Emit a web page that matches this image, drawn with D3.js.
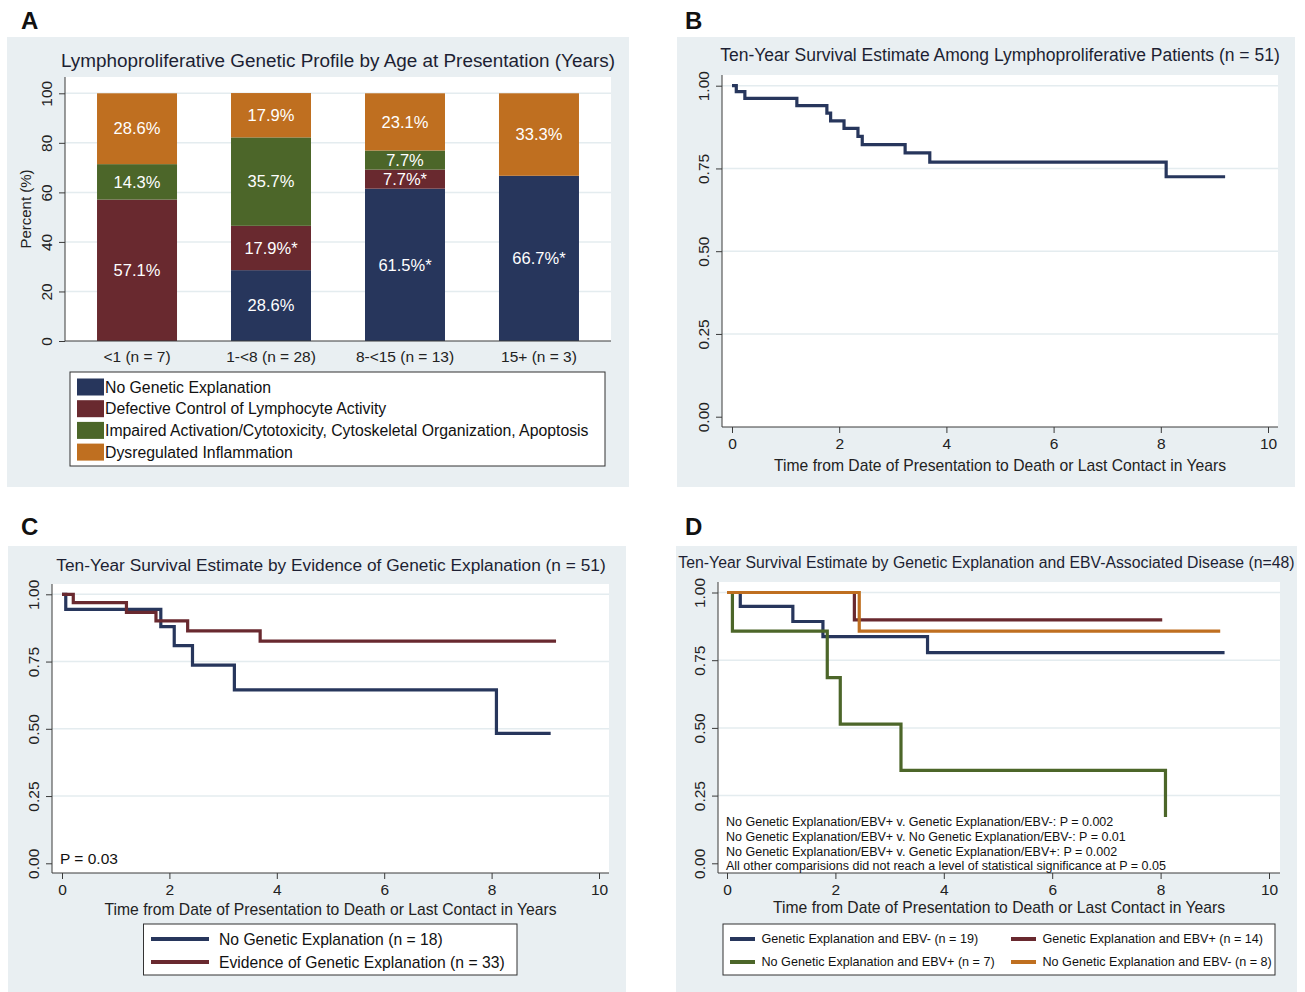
<!DOCTYPE html>
<html>
<head>
<meta charset="utf-8">
<script src="https://cdn.jsdelivr.net/npm/d3@7"></script>
<style>
  body { margin: 0; background: #fff; }
  svg { font-family: "Liberation Sans", Arial, sans-serif; }
</style>
</head>
<body>
<svg id="fig" width="1305" height="992"></svg>
<script>
// ---- data: panel A (stacked percent bars) ----
var ageGroups = ['<1 (n = 7)', '1-<8 (n = 28)', '8-<15 (n = 13)', '15+ (n = 3)'];
var profileNames = ['No Genetic Explanation', 'Defective Control of Lymphocyte Activity',
  'Impaired Activation/Cytotoxicity, Cytoskeletal Organization, Apoptosis', 'Dysregulated Inflammation'];
var noGenetic = [0, 28.6, 61.5, 66.7];
var defectiveControl = [57.1, 17.9, 7.7, 0];
var impairedActivation = [14.3, 35.7, 7.7, 0];
var dysregInflammation = [28.6, 17.9, 23.1, 33.3];
var noGeneticLabels = ['', '28.6%', '61.5%*', '66.7%*'];
var defectiveLabels = ['57.1%', '17.9%*', '7.7%*', ''];
var impairedLabels = ['14.3%', '35.7%', '7.7%', ''];
var dysregLabels = ['28.6%', '17.9%', '23.1%', '33.3%'];
var percentTicks = [0, 20, 40, 60, 80, 100];

// ---- data: survival curves (time in years, survival estimate) ----
var yearTicks = [0, 2, 4, 6, 8, 10];
var survTicks = [0, 0.25, 0.5, 0.75, 1];

var allTimes = [0, 0.08, 0.24, 1.21, 1.77, 1.84, 2.09, 2.35, 2.43, 3.23, 3.69, 8.10];
var allSurv = [1, 0.982, 0.962, 0.940, 0.917, 0.894, 0.871, 0.847, 0.822, 0.797, 0.769, 0.725];
var allEnd = 9.2;

var noGenTimes = [0, 0.07, 1.84, 2.09, 2.43, 3.21, 8.09];
var noGenSurv = [1, 0.944, 0.880, 0.809, 0.737, 0.645, 0.483];
var noGenEnd = 9.1;
var genTimes = [0, 0.21, 1.20, 1.75, 2.34, 3.69];
var genSurv = [1, 0.969, 0.933, 0.901, 0.864, 0.826];
var genEnd = 9.2;

var genNegTimes = [0, 0.245, 1.215, 1.77, 3.70];
var genNegSurv = [1, 0.949, 0.893, 0.837, 0.778];
var genNegEnd = 9.18;
var genPosTimes = [0, 2.35];
var genPosSurv = [1, 0.899];
var genPosEnd = 8.03;
var noGenPosTimes = [0, 0.10, 1.85, 2.09, 3.21, 8.09];
var noGenPosSurv = [1, 0.857, 0.686, 0.514, 0.343, 0.171];
var noGenPosEnd = 8.09;
var noGenNegTimes = [0, 2.44];
var noGenNegSurv = [1, 0.857];
var noGenNegEnd = 9.10;

var pNotes = [
  'No Genetic Explanation/EBV+ v. Genetic Explanation/EBV-: P = 0.002',
  'No Genetic Explanation/EBV+ v. No Genetic Explanation/EBV-: P = 0.01',
  'No Genetic Explanation/EBV+ v. Genetic Explanation/EBV+: P = 0.002',
  'All other comparisions did not reach a level of statistical significance at P = 0.05'
];

// colours
var navy = '#27365c', maroon = '#69292f', green = '#4c6629', orange = '#bf6f20';
var panelBg = '#e9eff2', gridCol = '#e4ecef', axisCol = '#3a3a3a', textCol = '#1d1f33';

var svg = d3.select('#fig');

function panelBox(x0, y0, x1, y1, letter, lx, ly) {
  svg.append('rect').attr('x', x0).attr('y', y0).attr('width', x1 - x0).attr('height', y1 - y0)
    .attr('fill', panelBg);
  svg.append('text').attr('x', lx).attr('y', ly).attr('font-size', 24).attr('font-weight', 'bold')
    .attr('fill', '#111').text(letter);
}

function styleYLabels(g, off, fs) {
  g.selectAll('.tick text')
    .attr('x', 0).attr('y', -off).attr('dy', '0.35em')
    .attr('text-anchor', 'middle').attr('transform', 'rotate(-90)')
    .attr('font-size', fs).attr('fill', '#222');
  g.selectAll('.tick line').attr('stroke', axisCol);
  g.select('.domain').remove();
}

function styleXLabels(g, off, fs) {
  g.selectAll('.tick text').attr('y', off).attr('dy', '0.71em')
    .attr('font-size', fs).attr('fill', '#222');
  g.selectAll('.tick line').attr('stroke', axisCol);
  g.select('.domain').remove();
}

// ================= Panel A =================
panelBox(7, 37, 629, 487, 'A', 21, 29);
var pa = { left: 65, right: 611, top: 77, bottom: 341 };
svg.append('rect').attr('x', pa.left).attr('y', pa.top).attr('width', pa.right - pa.left)
  .attr('height', pa.bottom - pa.top).attr('fill', '#fff');

var xA = d3.scaleBand().domain(ageGroups).range([pa.left, pa.right])
  .paddingInner(0.403).paddingOuter(0.239);
var yA = d3.scaleLinear().domain([0, 100]).range([pa.bottom, 93.3]);

svg.append('g').selectAll('line').data(percentTicks.filter(function(d) { return d > 0; }))
  .enter().append('line')
  .attr('x1', pa.left).attr('x2', pa.right)
  .attr('y1', yA).attr('y2', yA)
  .attr('stroke', gridCol).attr('stroke-width', 1.5);

var keysA = ['noGenetic', 'defective', 'impaired', 'dysreg'];
var colorsA = [navy, maroon, green, orange];
var labelsA = [noGeneticLabels, defectiveLabels, impairedLabels, dysregLabels];
var rowsA = ageGroups.map(function(g, i) {
  return { group: g, idx: i, noGenetic: noGenetic[i], defective: defectiveControl[i],
    impaired: impairedActivation[i], dysreg: dysregInflammation[i] };
});
var stackA = d3.stack().keys(keysA)(rowsA);

stackA.forEach(function(layer, k) {
  var gl = svg.append('g');
  gl.selectAll('rect').data(layer).enter().append('rect')
    .attr('x', function(d) { return xA(d.data.group); })
    .attr('width', xA.bandwidth())
    .attr('y', function(d) { return yA(d[1]); })
    .attr('height', function(d) { return yA(d[0]) - yA(d[1]); })
    .attr('fill', colorsA[k]);
  gl.selectAll('text').data(layer).enter().append('text')
    .attr('x', function(d) { return xA(d.data.group) + xA.bandwidth() / 2; })
    .attr('y', function(d) { return yA((d[0] + d[1]) / 2); })
    .attr('dy', '0.35em')
    .attr('text-anchor', 'middle').attr('font-size', 16.5).attr('fill', '#fff')
    .text(function(d) { return labelsA[k][d.data.idx]; });
});

var gyA = svg.append('g').attr('transform', 'translate(' + pa.left + ',0)')
  .call(d3.axisLeft(yA).tickValues(percentTicks).tickSize(6));
styleYLabels(gyA, 18, 15.5);
var gxA = svg.append('g').attr('transform', 'translate(0,' + pa.bottom + ')')
  .call(d3.axisBottom(xA).tickSize(0));
styleXLabels(gxA, 10, 15.5);
svg.append('line').attr('x1', pa.left).attr('x2', pa.left).attr('y1', pa.top).attr('y2', pa.bottom)
  .attr('stroke', axisCol);
svg.append('line').attr('x1', pa.left).attr('x2', pa.right).attr('y1', pa.bottom).attr('y2', pa.bottom)
  .attr('stroke', axisCol);

svg.append('text').attr('x', (pa.left + pa.right) / 2).attr('y', 66.5).attr('text-anchor', 'middle')
  .attr('font-size', 18.9).attr('fill', textCol)
  .text('Lymphoproliferative Genetic Profile by Age at Presentation (Years)');
svg.append('text').attr('transform', 'translate(31,' + ((pa.top + pa.bottom) / 2) + ') rotate(-90)')
  .attr('text-anchor', 'middle').attr('font-size', 15).attr('fill', '#222').text('Percent (%)');

// legend A
svg.append('rect').attr('x', 70).attr('y', 372).attr('width', 535).attr('height', 94)
  .attr('fill', '#fff').attr('stroke', '#333');
var legA = svg.append('g').selectAll('g').data(profileNames).enter().append('g')
  .attr('transform', function(d, i) { return 'translate(77,' + (378.5 + i * 21.7) + ')'; });
legA.append('rect').attr('width', 27).attr('height', 17)
  .attr('fill', function(d, i) { return colorsA[i]; });
legA.append('text').attr('x', 28).attr('y', 8.5).attr('dy', '0.35em').attr('font-size', 15.8)
  .attr('fill', '#111').text(function(d) { return d; });

// ================= survival panels =================
function kmPanel(cfg) {
  var p = cfg.plot;
  svg.append('rect').attr('x', p.left).attr('y', p.top).attr('width', p.right - p.left)
    .attr('height', p.bottom - p.top).attr('fill', '#fff');
  var x = d3.scaleLinear().domain([0, 10]).range(cfg.xr);
  var y = d3.scaleLinear().domain([0, 1]).range(cfg.yr);

  svg.append('g').selectAll('line').data(survTicks.filter(function(d) { return d > 0; }))
    .enter().append('line')
    .attr('x1', p.left).attr('x2', p.right).attr('y1', y).attr('y2', y)
    .attr('stroke', gridCol).attr('stroke-width', 1.5);

  var gy = svg.append('g').attr('transform', 'translate(' + p.left + ',0)')
    .call(d3.axisLeft(y).tickValues(survTicks).tickFormat(d3.format('.2f')).tickSize(6));
  styleYLabels(gy, 18, 15.5);
  var gx = svg.append('g').attr('transform', 'translate(0,' + p.bottom + ')')
    .call(d3.axisBottom(x).tickValues(yearTicks).tickSize(6));
  styleXLabels(gx, 11, 15.5);
  svg.append('line').attr('x1', p.left).attr('x2', p.left).attr('y1', p.top).attr('y2', p.bottom)
    .attr('stroke', axisCol);
  svg.append('line').attr('x1', p.left).attr('x2', p.right).attr('y1', p.bottom).attr('y2', p.bottom)
    .attr('stroke', axisCol);

  var line = d3.line().x(function(d) { return x(d[0]); }).y(function(d) { return y(d[1]); })
    .curve(d3.curveStepAfter);
  cfg.series.forEach(function(s) {
    var pts = s.times.map(function(t, i) { return [t, s.surv[i]]; });
    pts.push([s.end, s.surv[s.surv.length - 1]]);
    svg.append('path').attr('d', line(pts)).attr('fill', 'none')
      .attr('stroke', s.color).attr('stroke-width', 3.2);
  });

  svg.append('text').attr('x', cfg.titleX).attr('y', cfg.titleY).attr('text-anchor', 'middle')
    .attr('font-size', cfg.titleSize).attr('fill', textCol).text(cfg.title);
  svg.append('text').attr('x', (p.left + p.right) / 2).attr('y', cfg.xTitleY).attr('text-anchor', 'middle')
    .attr('font-size', 15.7).attr('fill', '#222')
    .text('Time from Date of Presentation to Death or Last Contact in Years');
  return { x: x, y: y };
}

// Panel B
panelBox(677, 37, 1295, 487, 'B', 685, 29);
kmPanel({
  plot: { left: 722, right: 1278, top: 75, bottom: 427 },
  xr: [732, 1268], yr: [416.7, 85.7],
  title: 'Ten-Year Survival Estimate Among Lymphoproliferative Patients (n = 51)',
  titleX: 1000, titleY: 61, titleSize: 17.5, xTitleY: 471,
  series: [{ times: allTimes, surv: allSurv, end: allEnd, color: navy }]
});

// Panel C
panelBox(8, 546, 626, 992, 'C', 21, 535);
var seriesC = [
  { name: 'No Genetic Explanation (n = 18)', times: noGenTimes, surv: noGenSurv, end: noGenEnd, color: navy },
  { name: 'Evidence of Genetic Explanation (n = 33)', times: genTimes, surv: genSurv, end: genEnd, color: maroon }
];
kmPanel({
  plot: { left: 52, right: 609, top: 584, bottom: 873 },
  xr: [62, 599], yr: [863.3, 594.3],
  title: 'Ten-Year Survival Estimate by Evidence of Genetic Explanation (n = 51)',
  titleX: 331, titleY: 571, titleSize: 17.3, xTitleY: 915,
  series: seriesC
});
svg.append('text').attr('x', 60).attr('y', 859).attr('dy', '0.35em').attr('font-size', 15.5)
  .attr('fill', '#111').text('P = 0.03');
svg.append('rect').attr('x', 143.5).attr('y', 924).attr('width', 373.5).attr('height', 51)
  .attr('fill', '#fff').attr('stroke', '#333');
var legC = svg.append('g').selectAll('g').data(seriesC).enter().append('g')
  .attr('transform', function(d, i) { return 'translate(151,' + (939 + i * 23) + ')'; });
legC.append('line').attr('x1', 0).attr('x2', 58).attr('stroke-width', 4)
  .attr('stroke', function(d) { return d.color; });
legC.append('text').attr('x', 68).attr('dy', '0.35em').attr('font-size', 15.7).attr('fill', '#111')
  .text(function(d) { return d.name; });

// Panel D
panelBox(676, 546, 1297, 992, 'D', 685, 535);
var seriesD = [
  { name: 'Genetic Explanation and EBV- (n = 19)', times: genNegTimes, surv: genNegSurv, end: genNegEnd, color: navy },
  { name: 'Genetic Explanation and EBV+ (n = 14)', times: genPosTimes, surv: genPosSurv, end: genPosEnd, color: maroon },
  { name: 'No Genetic Explanation and EBV+ (n = 7)', times: noGenPosTimes, surv: noGenPosSurv, end: noGenPosEnd, color: green },
  { name: 'No Genetic Explanation and EBV- (n = 8)', times: noGenNegTimes, surv: noGenNegSurv, end: noGenNegEnd, color: orange }
];
kmPanel({
  plot: { left: 718, right: 1280, top: 582, bottom: 873 },
  xr: [727, 1269], yr: [863.3, 592.5],
  title: 'Ten-Year Survival Estimate by Genetic Explanation and EBV-Associated Disease (n=48)',
  titleX: 986.5, titleY: 568, titleSize: 15.8, xTitleY: 913,
  series: seriesD
});
svg.append('g').selectAll('text').data(pNotes).enter().append('text')
  .attr('x', 726).attr('y', function(d, i) { return 822 + i * 14.7; }).attr('dy', '0.35em')
  .attr('font-size', 12.5).attr('fill', '#111').text(function(d) { return d; });
svg.append('rect').attr('x', 723).attr('y', 924).attr('width', 552).attr('height', 51)
  .attr('fill', '#fff').attr('stroke', '#333');
var legD = svg.append('g').selectAll('g').data(seriesD).enter().append('g')
  .attr('transform', function(d, i) {
    return 'translate(' + (i % 2 ? 1011 : 730) + ',' + (939 + Math.floor(i / 2) * 23) + ')';
  });
legD.append('line').attr('x1', 0).attr('x2', 25).attr('stroke-width', 4)
  .attr('stroke', function(d) { return d.color; });
legD.append('text').attr('x', 31.5).attr('dy', '0.35em').attr('font-size', 12.6).attr('fill', '#111')
  .text(function(d) { return d.name; });
</script>
</body>
</html>
